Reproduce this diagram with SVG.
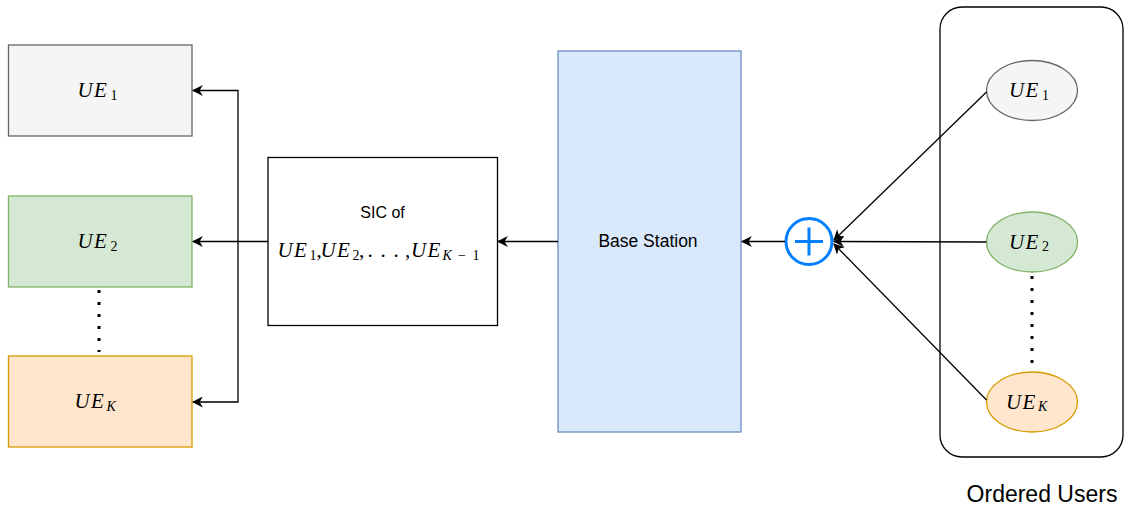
<svg xmlns="http://www.w3.org/2000/svg" width="1131" height="511" viewBox="0 0 1131 511">
<style>
.m{font-family:"Liberation Serif","DejaVu Serif",serif;font-style:italic;font-size:21px;fill:#000}
.s{font-size:14px;font-style:normal}
.n{font-style:normal}
.t{font-family:"Liberation Sans",Arial,sans-serif;font-size:16px;fill:#000}
.c{stroke:#000;stroke-width:1.3;fill:none}
.dot{stroke:#000;stroke-width:3;stroke-dasharray:3 9;fill:none}
</style>
<defs>
<marker id="a" viewBox="0 0 10 10" refX="9" refY="5" markerWidth="11" markerHeight="11" markerUnits="userSpaceOnUse" orient="auto">
<path d="M0,0 L10,5 L0,10 L3,5 Z" fill="#000"/>
</marker>
</defs>
<rect id="bg" width="1131" height="511" fill="#fff"/>
<g id="container">
<rect x="940" y="7" width="183" height="450" rx="22" fill="none" stroke="#000" stroke-width="1.3"/>
<text class="t" x="1042" y="502" text-anchor="middle" style="font-size:23px">Ordered Users</text>
</g>
<g id="ue1">
<rect x="8.5" y="45" width="183.5" height="91" fill="#f5f5f5" stroke="#666" stroke-width="1.3"/>
<text class="m" y="97"><tspan x="77.5">U</tspan><tspan x="94">E</tspan><tspan class="s" x="110.5" y="99.5">1</tspan></text>
</g>
<g id="ue2">
<rect x="8.5" y="196" width="183.5" height="91" fill="#d5e8d4" stroke="#82b366" stroke-width="1.3"/>
<text class="m" y="248"><tspan x="77.5">U</tspan><tspan x="94">E</tspan><tspan class="s" x="110.5" y="250.5">2</tspan></text>
</g>
<g id="uek">
<rect x="8.5" y="356" width="183.5" height="91" fill="#ffe6cc" stroke="#d79b00" stroke-width="1.3"/>
<text class="m" y="408"><tspan x="74.5">U</tspan><tspan x="91">E</tspan><tspan class="s" style="font-style:italic" x="106.5" y="410.5">K</tspan></text>
</g>
<g id="sic">
<rect x="268" y="157.5" width="229.5" height="168" fill="#fff" stroke="#000" stroke-width="1.3"/>
<text class="t" x="382.5" y="218" text-anchor="middle">SIC of</text>
<text class="m" y="257"><tspan x="277.5">U</tspan><tspan x="294">E</tspan><tspan class="s" x="309.5" y="259.5">1</tspan><tspan class="n" x="316.5" y="257">,</tspan><tspan x="320.5">U</tspan><tspan x="337">E</tspan><tspan class="s" x="352.5" y="259.5">2</tspan><tspan class="n" x="359" y="257">,</tspan><tspan class="n" x="367.5">.</tspan><tspan class="n" x="380.5">.</tspan><tspan class="n" x="393.5">.</tspan><tspan class="n" x="405">,</tspan><tspan x="411">U</tspan><tspan x="427.5">E</tspan><tspan class="s" style="font-style:italic" x="442.5" y="259.5">K</tspan><tspan class="s" x="458">−</tspan><tspan class="s" x="472.5">1</tspan></text>
</g>
<g id="bs">
<rect x="558" y="51" width="183" height="381" fill="#dae8fc" stroke="#6c8ebf" stroke-width="1.3"/>
<text class="t" x="648" y="246.5" text-anchor="middle" style="font-size:17.5px">Base Station</text>
</g>
<g id="sum">
<circle cx="809" cy="241.5" r="23" fill="#fff" stroke="#007fff" stroke-width="3"/>
<path d="M795,241.5 H823 M809,227.5 V255.5" stroke="#007fff" stroke-width="3"/>
</g>
<g id="o1">
<ellipse cx="1032" cy="90.5" rx="45.5" ry="30" fill="#f5f5f5" stroke="#666" stroke-width="1.3"/>
<text class="m" y="97"><tspan x="1009">U</tspan><tspan x="1025.5">E</tspan><tspan class="s" x="1042" y="99.5">1</tspan></text>
</g>
<g id="o2">
<ellipse cx="1032" cy="242" rx="45.5" ry="30" fill="#d5e8d4" stroke="#82b366" stroke-width="1.3"/>
<text class="m" y="248.5"><tspan x="1009">U</tspan><tspan x="1025.5">E</tspan><tspan class="s" x="1042" y="251">2</tspan></text>
</g>
<g id="ok">
<ellipse cx="1032" cy="402" rx="45.5" ry="30" fill="#ffe6cc" stroke="#d79b00" stroke-width="1.3"/>
<text class="m" y="408.5"><tspan x="1006">U</tspan><tspan x="1022.5">E</tspan><tspan class="s" style="font-style:italic" x="1038" y="411">K</tspan></text>
</g>
<g id="connectors">
<path class="c" d="M268,241.5 H193" marker-end="url(#a)"/>
<path class="c" d="M238,241.5 V90.5 H193" marker-end="url(#a)"/>
<path class="c" d="M238,241.5 V402 H193" marker-end="url(#a)"/>
<path class="c" d="M558,241.5 H498" marker-end="url(#a)"/>
<path class="c" d="M785,241.5 H742" marker-end="url(#a)"/>
<path class="c" d="M986.5,92 L834,240" marker-end="url(#a)"/>
<path class="c" d="M986.5,242 L834,241.5" marker-end="url(#a)"/>
<path class="c" d="M986.5,400 L834,244" marker-end="url(#a)"/>
<path class="dot" d="M99,290 V352"/>
<path class="dot" d="M1032,276 V372"/>
</g>
</svg>
